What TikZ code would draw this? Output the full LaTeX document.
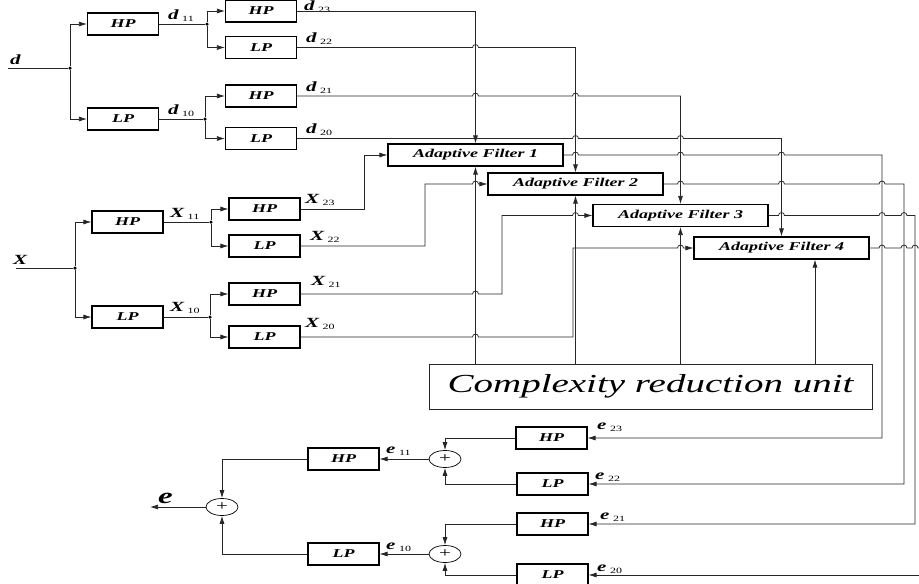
\documentclass[tikz,border=0pt]{standalone}
\usepackage{fontspec}
\setmainfont{Liberation Serif}
\usetikzlibrary{arrows.meta,shapes.geometric}
\newcommand\st[1]{\scalebox{1.5}[1]{#1}}
\newcommand\sig[2]{\st{\fontsize{14}{14}\selectfont\bfseries\itshape #1\,\raisebox{-0.35ex}{\fontsize{8}{8}\selectfont\mdseries\upshape #2}}}
\newcommand\jump[2]{-- (#1-3,#2) arc[start angle=180,end angle=360,radius=3]}
\begin{document}
\begin{tikzpicture}[x=1pt,y=-1pt,
 box/.style={draw=black,line width=1.1pt,minimum width=71pt,minimum height=22pt,inner sep=0pt,font=\fontsize{12}{12}\selectfont\bfseries\itshape},
 afbox/.style={box,minimum width=175pt},
 wire/.style={draw=black!85,line width=0.75pt},
 arr/.style={wire,-{Latex[length=8pt,width=5pt]}},
 sum/.style={ellipse,draw=black,line width=0.7pt,minimum width=32pt,minimum height=17pt,inner sep=0pt,font=\fontsize{14}{14}\selectfont},
 dot/.style={circle,fill=black,inner sep=0pt,minimum size=3.5pt},
 lbl/.style={inner sep=0pt,anchor=south west}]
\useasboundingbox (0,0) rectangle (919,584);

% ---------- d tree
\coordinate (din) at (8,68);
\node[dot] (jd) at (70,68) {};
\node[box] (hpd1) at (123,24) {\st{HP}};
\node[box] (lpd1) at (123,119) {\st{LP}};
\node[dot] (jd11) at (207,24) {};
\node[dot] (jd10) at (205,119) {};
\node[box] (hpd23) at (261,11) {\st{HP}};
\node[box] (lpd22) at (261,47.5) {\st{LP}};
\node[box] (hpd21) at (261,96) {\st{HP}};
\node[box] (lpd20) at (261,138.5) {\st{LP}};
\draw[wire] (din) -- (jd);
\draw[arr] (jd) |- (hpd1.west);
\draw[arr] (jd) |- (lpd1.west);
\draw[wire] (hpd1.east) -- (jd11);
\draw[arr] (jd11) |- (hpd23.west);
\draw[arr] (jd11) |- (lpd22.west);
\draw[wire] (lpd1.east) -- (jd10);
\draw[arr] (jd10) |- (hpd21.west);
\draw[arr] (jd10) |- (lpd20.west);
\node[lbl] (ld) at (10,65) {\st{\fontsize{14}{14}\selectfont\bfseries\itshape d}};
\node[lbl] (ld11) at (168,22) {\sig{d}{11}};
\node[lbl] (ld10) at (168,117) {\sig{d}{10}};
\node[lbl] (ld23) at (304,13) {\sig{d}{23}};
\node[lbl] (ld22) at (306,45) {\sig{d}{22}};
\node[lbl] (ld21) at (306,94) {\sig{d}{21}};
\node[lbl] (ld20) at (306,136) {\sig{d}{20}};

% ---------- X tree
\coordinate (xin) at (16,268);
\node[dot] (jx) at (75,268) {};
\node[box] (hpx1) at (127.5,222) {\st{HP}};
\node[box] (lpx1) at (127.5,317) {\st{LP}};
\node[dot] (jx11) at (211,222) {};
\node[dot] (jx10) at (210,317) {};
\node[box] (hpx23) at (264.5,209) {\st{HP}};
\node[box] (lpx22) at (264.5,246) {\st{LP}};
\node[box] (hpx21) at (264.5,294) {\st{HP}};
\node[box] (lpx20) at (264.5,337) {\st{LP}};
\draw[wire] (xin) -- (jx);
\draw[arr] (jx) |- (hpx1.west);
\draw[arr] (jx) |- (lpx1.west);
\draw[wire] (hpx1.east) -- (jx11);
\draw[arr] (jx11) |- (hpx23.west);
\draw[arr] (jx11) |- (lpx22.west);
\draw[wire] (lpx1.east) -- (jx10);
\draw[arr] (jx10) |- (hpx21.west);
\draw[arr] (jx10) |- (lpx20.west);
\node[lbl] (lx) at (13,265) {\st{\fontsize{14}{14}\selectfont\bfseries\itshape X}};
\node[lbl] (lx11) at (170,220) {\sig{X}{11}};
\node[lbl] (lx10) at (170,314) {\sig{X}{10}};
\node[lbl] (lx23) at (305,206) {\sig{X}{23}};
\node[lbl] (lx22) at (310,243) {\sig{X}{22}};
\node[lbl] (lx21) at (311,288) {\sig{X}{21}};
\node[lbl] (lx20) at (305,330) {\sig{X}{20}};

% ---------- adaptive filters
\node[afbox] (af1) at (475.5,155) {\st{Adaptive Filter 1}};
\node[afbox] (af2) at (575.5,184) {\st{Adaptive Filter 2}};
\node[afbox] (af3) at (680.5,215.5) {\st{Adaptive Filter 3}};
\node[afbox] (af4) at (781.5,248) {\st{Adaptive Filter 4}};
\node[draw=black!85,line width=0.9pt,minimum width=443pt,minimum height=45pt,inner sep=0pt,font=\fontsize{26}{26}\selectfont\itshape] (cru) at (650.5,386.5) {\st{Complexity reduction unit}};

% d inputs
\draw[arr] (hpd23.east) -| (af1.north);
\draw[arr] (lpd22.east) \jump{475.5}{47.5} -- (575.5,47.5) -- (af2.north);
\draw[arr] (hpd21.east) \jump{475.5}{96} \jump{575.5}{96} -- (680.5,96) -- (af3.north);
\draw[arr] (lpd20.east) \jump{575.5}{138.5} \jump{680.5}{138.5} -- (781.5,138.5) -- (af4.north);

% X inputs
\draw[arr] (hpx23.east) -- (364,209) |- (af1.west);
\draw[arr] (lpx22.east) -- (425,246) -- (425,184) \jump{475.5}{184} -- (af2.west);
\draw[arr] (hpx21.east) \jump{475.5}{294} -- (502,294) -- (502,215.5) \jump{575.5}{215.5} -- (af3.west);
\draw[arr] (lpx20.east) \jump{475.5}{337} -- (573,337) -- (573,248) \jump{680.5}{248} -- (af4.west);

% complexity reduction unit to filters
\coordinate (c4) at (815,364);
\draw[arr] (cru.north -| af1.south) -- (af1.south);
\draw[arr] (cru.north -| af2.south) -- (af2.south);
\draw[arr] (cru.north -| af3.south) -- (af3.south);
\draw[arr] (c4) -- (c4 |- af4.south);

% ---------- e tree
\node[box] (hpe23) at (551.5,438) {\st{HP}};
\node[box] (lpe22) at (552.5,484) {\st{LP}};
\node[box] (hpe21) at (552.5,524) {\st{HP}};
\node[box] (lpe20) at (552.5,575) {\st{LP}};
\node[sum] (s1) at (445,459) {\st{+}};
\node[sum] (s2) at (445,554) {\st{+}};
\node[box] (hpe11) at (343.5,459) {\st{HP}};
\node[box] (lpe10) at (343.5,554) {\st{LP}};
\node[sum] (s0) at (222,507) {\st{+}};
\coordinate (eout) at (150,507);
\coordinate (aout) at (922,248);
\coordinate (ein) at (922,575);

% filter outputs
\draw[arr] (af1.east) \jump{575.5}{155} \jump{680.5}{155} \jump{781.5}{155} -- (882,155) -- (882,438) -- (hpe23.east);
\draw[arr] (af2.east) \jump{680.5}{184} \jump{781.5}{184} \jump{882}{184} -- (904,184) -- (904,484) -- (lpe22.east);
\draw[arr] (af3.east) \jump{781.5}{215.5} \jump{882}{215.5} \jump{904}{215.5} -- (915,215.5) -- (915,524) -- (hpe21.east);
\draw[wire] (af4.east) \jump{882}{248} \jump{904}{248} \jump{915}{248} -- (aout);
\draw[arr] (ein) -- (lpe20.east);

\draw[arr] (hpe23.west) -| (s1.north);
\draw[arr] (lpe22.west) -| (s1.south);
\draw[arr] (hpe21.west) -| (s2.north);
\draw[arr] (lpe20.west) -| (s2.south);
\draw[arr] (s1.west) -- (hpe11.east);
\draw[arr] (s2.west) -- (lpe10.east);
\draw[arr] (hpe11.west) -| (s0.north);
\draw[arr] (lpe10.west) -| (s0.south);
\draw[arr] (s0.west) -- (eout);

\node[lbl] (le23) at (597,432) {\sig{e}{23}};
\node[lbl] (le22) at (595,482) {\sig{e}{22}};
\node[lbl] (le21) at (600,522) {\sig{e}{21}};
\node[lbl] (le20) at (597,574) {\sig{e}{20}};
\node[lbl] (le11) at (386,456) {\sig{e}{11}};
\node[lbl] (le10) at (386,552) {\sig{e}{10}};
\node[lbl] (le) at (158,504) {\st{\fontsize{22}{22}\selectfont\bfseries\itshape e}};
\end{tikzpicture}
\end{document}
